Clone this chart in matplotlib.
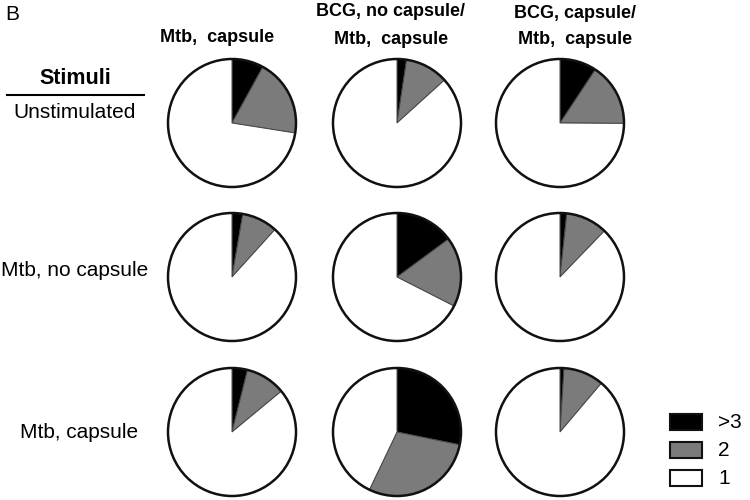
import matplotlib.pyplot as plt
from matplotlib.patches import Circle, Rectangle

plt.rcParams['font.family'] = ['Liberation Sans', 'DejaVu Sans']

# percent of cells: >3, 2, 1
stimuli = ["Unstimulated", "Mtb, no capsule", "Mtb, capsule"]
columns = [["Mtb,  capsule"], ["BCG, no capsule/", "Mtb,  capsule"], ["BCG, capsule/", "Mtb,  capsule"]]
unstim = [[8.0, 19.5, 72.5], [2.4, 10.9, 86.7], [9.3, 15.8, 74.9]]
mtb_no_capsule = [[2.7, 9.0, 88.3], [14.9, 17.6, 67.5], [1.7, 10.5, 87.8]]
mtb_capsule = [[3.9, 10.1, 86.0], [28.2, 28.9, 42.9], [1.0, 10.2, 88.8]]
legend_labels = [">3", "2", "1"]
colors = ["#000000", "#7b7b7b", "#ffffff"]

rows = [unstim, mtb_no_capsule, mtb_capsule]

W, H = 750, 500
fig = plt.figure(figsize=(7.5, 5), dpi=100)

col_x = [232, 397, 560]
row_y = [123, 277, 432]
r = 64

for i, row in enumerate(rows):
    for j, vals in enumerate(row):
        cx, cy = col_x[j], row_y[i]
        ax = fig.add_axes([(cx - r - 2) / W, 1 - (cy + r + 2) / H, (2 * r + 4) / W, (2 * r + 4) / H])
        ax.pie(vals, colors=colors, startangle=90, counterclock=False,
               wedgeprops=dict(edgecolor="#444444", linewidth=0.7))
        ax.add_patch(Circle((0, 0), 1, fill=False, edgecolor="#111111", linewidth=1.8))
        s = (r + 2) / r
        ax.set_xlim(-s, s)
        ax.set_ylim(-s, s)
        ax.set_aspect("equal")
        ax.axis("off")

# panel letter
fig.text(12 / W, 1 - 14 / H, "B", fontsize=15, ha="center", va="center")

# column headers
head_x = [217, 391, 575]
head_y = [[38], [11, 40], [14, 39]]
for j, lines in enumerate(columns):
    for k, line in enumerate(lines):
        fig.text(head_x[j] / W, 1 - head_y[j][k] / H, line, fontsize=13, fontweight="bold",
                 ha="center", va="center")

# row labels
fig.text(75 / W, 1 - 79 / H, "Stimuli", fontsize=15.5, fontweight="bold", ha="center", va="center")
fig.add_artist(plt.Line2D([7 / W, 144 / W], [1 - 95 / H, 1 - 95 / H], color="black", linewidth=1.5))
label_x = [75, 75, 79]
label_y = [113, 270, 432]
for i, lab in enumerate(stimuli):
    fig.text(label_x[i] / W, 1 - label_y[i] / H, lab, fontsize=15, ha="center", va="center")

# legend
leg_y = [422, 450, 478]
for k, lab in enumerate(legend_labels):
    fig.add_artist(Rectangle((670 / W, 1 - (leg_y[k] + 8) / H), 32 / W, 16 / H,
                             facecolor=colors[k], edgecolor="#111111", linewidth=1.5,
                             transform=fig.transFigure))
    fig.text(718 / W, 1 - leg_y[k] / H, lab, fontsize=15, ha="left", va="center")

fig.savefig("out.png", dpi=100)
